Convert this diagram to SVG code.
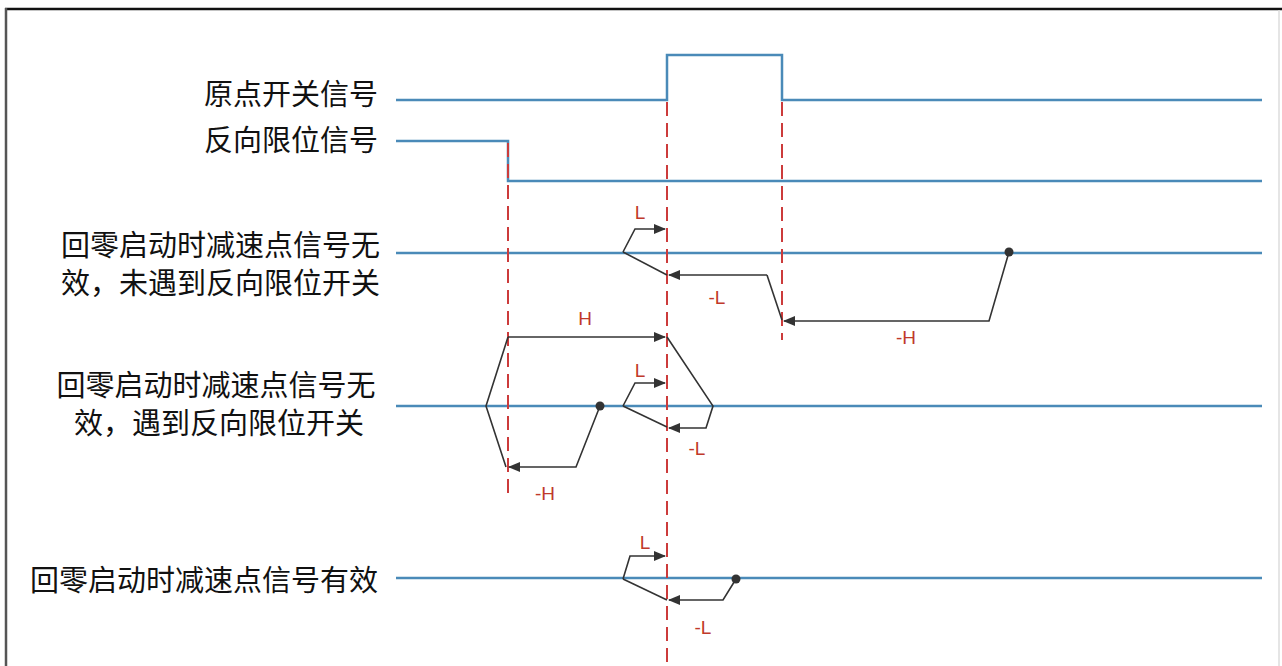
<svg xmlns="http://www.w3.org/2000/svg" width="1282" height="666" viewBox="0 0 1282 666">
<style>
.sig{fill:none;stroke:#4a8ab8;stroke-width:2.5}
.dash{fill:none;stroke:#cc3b3b;stroke-width:2;stroke-dasharray:14 7}
.path{fill:none;stroke:#333;stroke-width:1.6}
.lbl{font-family:"Noto Sans CJK SC","Noto Sans CJK JP",sans-serif;font-size:29px;fill:#111}
.red{font-family:"Liberation Sans",Arial,sans-serif;font-size:19px;fill:#c0392b;text-anchor:middle}
.dot{fill:#333}
</style>
<defs>
<marker id="ah" viewBox="0 0 12 10" refX="11" refY="5" markerWidth="12" markerHeight="10" markerUnits="userSpaceOnUse" orient="auto">
<path d="M0,0 L12,5 L0,10 Z" fill="#333"/>
</marker>
</defs>
<rect x="0" y="0" width="1282" height="666" fill="#fff"/>
<line x1="5" y1="9" x2="1282" y2="9" stroke="#111" stroke-width="2.5"/>
<line x1="6" y1="8" x2="6" y2="666" stroke="#555" stroke-width="2.5"/>
<line x1="1279" y1="10" x2="1279" y2="666" stroke="#ddd" stroke-width="1.5"/>

<g id="signals">
<g id="origin-switch">
<text class="lbl" x="378" y="105" text-anchor="end">原点开关信号</text>
<polyline class="sig" points="396,100 667,100 667,55 782,55 782,100 1262,100"/>
</g>
<g id="reverse-limit">
<text class="lbl" x="378" y="151" text-anchor="end">反向限位信号</text>
<polyline class="sig" points="396,141 508,141 508,181 1262,181"/>
</g>
<g id="case1">
<text class="lbl" x="380" y="256" text-anchor="end">回零启动时减速点信号无</text>
<text class="lbl" x="380" y="294" text-anchor="end">效，未遇到反向限位开关</text>
<line class="sig" x1="396" y1="253" x2="1262" y2="253"/>
</g>
<g id="case2">
<text class="lbl" x="216" y="396" text-anchor="middle">回零启动时减速点信号无</text>
<text class="lbl" x="219" y="434" text-anchor="middle">效，遇到反向限位开关</text>
<line class="sig" x1="396" y1="406" x2="1262" y2="406"/>
</g>
<g id="case3">
<text class="lbl" x="378" y="591" text-anchor="end">回零启动时减速点信号有效</text>
<line class="sig" x1="396" y1="578" x2="1262" y2="578"/>
</g>
</g>

<g id="guides">
<line class="dash" x1="508" y1="143" x2="508" y2="498"/>
<line class="dash" x1="667" y1="102" x2="667" y2="666"/>
<line class="dash" x1="782" y1="102" x2="782" y2="340"/>
</g>

<g id="connectors">
<polyline class="path" points="623,252 635,229 665,229" marker-end="url(#ah)"/>
<polyline class="path" points="623,252 667,275"/>
<polyline class="path" points="767,275 669,275" marker-end="url(#ah)"/>
<polyline class="path" points="767,275 782,320"/>
<polyline class="path" points="1009,252 989,321 784,321" marker-end="url(#ah)"/>
<circle class="dot" cx="1009" cy="252" r="4.5"/>
<polyline class="path" points="508,337 665,337" marker-end="url(#ah)"/>
<polyline class="path" points="508,337 486,406 506,467"/>
<polyline class="path" points="600,406 576,467 509,467" marker-end="url(#ah)"/>
<circle class="dot" cx="600" cy="406" r="4.5"/>
<polyline class="path" points="667,337 713,406 706,428 669,428" marker-end="url(#ah)"/>
<polyline class="path" points="623,406 635,383 665,383" marker-end="url(#ah)"/>
<polyline class="path" points="623,406 667,427"/>
<polyline class="path" points="623,579 630,556 665,556" marker-end="url(#ah)"/>
<polyline class="path" points="623,579 667,600"/>
<polyline class="path" points="736,579 723,600 669,600" marker-end="url(#ah)"/>
<circle class="dot" cx="736" cy="579" r="4.5"/>
</g>

<g id="labels">
<text class="red" x="640" y="219">L</text>
<text class="red" x="717" y="304">-L</text>
<text class="red" x="906" y="344">-H</text>
<text class="red" x="585" y="325">H</text>
<text class="red" x="640" y="377">L</text>
<text class="red" x="697" y="455">-L</text>
<text class="red" x="545" y="500">-H</text>
<text class="red" x="645" y="549">L</text>
<text class="red" x="703" y="634">-L</text>
</g>
</svg>
